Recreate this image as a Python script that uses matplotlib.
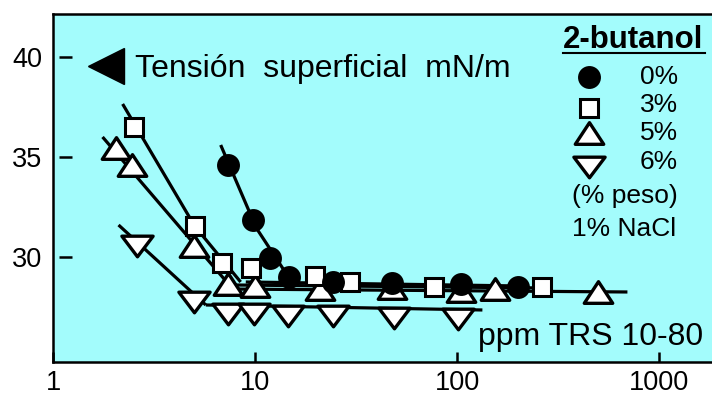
import numpy as np
import matplotlib
matplotlib.use('Agg')
from matplotlib import pyplot as plt
from matplotlib.ticker import NullLocator
from matplotlib.path import Path

plt.rcParams['font.family'] = ['Liberation Sans', 'DejaVu Sans']

# 0% 2-butanol (círculos)
x_0 = [7.28, 9.77, 11.75, 14.6, 24.3, 47.6, 104.5, 200]
y_0 = [34.6, 31.85, 29.95, 29.0, 28.75, 28.7, 28.65, 28.5]
# 3% (cuadrados)
x_3 = [2.5, 5.0, 6.8, 9.5, 19.8, 29.3, 76.9, 263]
y_3 = [36.5, 31.55, 29.7, 29.45, 29.05, 28.75, 28.5, 28.5]
# 5% (triangulos)
x_5 = [2.03, 2.44, 4.94, 7.28, 9.9, 21, 47.6, 104.5, 154, 498]
y_5 = [35.45, 34.6, 30.55, 28.65, 28.55, 28.4, 28.45, 28.3, 28.4, 28.25]
# 6% (triangulos invertidos)
x_6 = [2.6, 4.94, 7.28, 9.8, 14.5, 24.1, 48.3, 101]
y_6 = [30.55, 27.75, 27.15, 27.15, 27.05, 27.05, 26.95, 26.9]

# rectas de ajuste: pendiente y meseta
fit_0 = ([6.73, 10.1, 14.9], [35.6, 31.45, 28.85])
flat_0 = ([8.96, 205], [28.75, 28.55])
fit_3 = ([2.2, 5.0, 8.45], [37.65, 31.55, 28.75])
flat_3 = ([7.7, 272], [28.6, 28.45])
fit_5 = ([1.75, 7.72], [36.0, 28.4])
flat_5 = ([6.9, 695], [28.4, 28.25])
fit_6 = ([2.1, 5.68], [31.6, 27.6])
flat_6 = ([5.68, 133], [27.6, 27.35])

xticks = [1, 10, 100, 1000]
yticks = [30, 35, 40]
labels = ['0%', '3%', '5%', '6%']

# triangulos achatados (cerrados)
tri_up = Path([(-1, -0.76), (1, -0.76), (0, 0.76), (-1, -0.76)], closed=True)
tri_dn = Path([(-1, 0.66), (1, 0.66), (0, -0.66), (-1, 0.66)], closed=True)

styles = {
    '0%': dict(marker='o', ms=15, mfc='black', mec='black', mew=1.5),
    '3%': dict(marker='s', ms=13.5, mfc='white', mec='black', mew=2.2),
    '5%': dict(marker=tri_up, ms=20.5, mfc='white', mec='black', mew=2.4),
    '6%': dict(marker=tri_dn, ms=22.5, mfc='white', mec='black', mew=2.4),
}

fig = plt.figure(figsize=(7.12, 3.96), dpi=100)
ax = fig.add_axes([0.0751, 0.0859, 0.9249, 0.8788])
ax.set_facecolor('#a3fcfc')

lw = 2.3
for xs, ys in [fit_0, flat_0, fit_3, flat_3, fit_5, flat_5, fit_6, flat_6]:
    ax.plot(xs, ys, color='black', lw=lw, solid_capstyle='butt', zorder=2)

for xs, ys, lab in [(x_6, y_6, '6%'), (x_5, y_5, '5%'), (x_3, y_3, '3%'), (x_0, y_0, '0%')]:
    ax.plot(xs, ys, ls='none', zorder=3, **styles[lab])

ax.set_xscale('log')
ax.set_xlim(1.009, 1823)
ax.set_ylim(24.75, 42.15)
ax.set_xticks(xticks)
ax.set_xticklabels([str(t) for t in xticks])
ax.xaxis.set_minor_locator(NullLocator())
ax.set_yticks(yticks)
ax.set_yticklabels([str(t) for t in yticks])
ax.tick_params(axis='x', direction='in', length=7.5, width=1.8, pad=6, labelsize=19.5)
ax.tick_params(axis='y', length=0, pad=8, labelsize=19.5)
ax.hlines(yticks, 0.0084, 0.028, transform=ax.get_yaxis_transform(), color='black', lw=1.8)

for s in ['left', 'top', 'bottom']:
    ax.spines[s].set_linewidth(1.8)
ax.spines['right'].set_visible(False)

# etiqueta de tension superficial
ax.plot([0.0797], [0.8506], marker='<', ms=26, color='black', transform=ax.transAxes, clip_on=False)
ax.text(0.1238, 0.819, 'Tensión  superficial  mN/m', fontsize=23, transform=ax.transAxes, va='baseline')

# leyenda manual
ax.text(0.7737, 0.9023, '2-butanol', fontsize=22.5, fontweight='bold', transform=ax.transAxes, va='baseline')
ax.plot([0.7737, 0.9894], [0.8879, 0.8879], color='black', lw=1.5, transform=ax.transAxes)
mk_y = [0.819, 0.7299, 0.658, 0.5603]
tx_y = [0.819, 0.739, 0.658, 0.575]
for lab, my, ty in zip(labels, mk_y, tx_y):
    st = dict(styles[lab])
    ax.plot([0.8132], [my], transform=ax.transAxes, **st)
    ax.text(0.8907, ty, lab, fontsize=19, transform=ax.transAxes, va='center')
ax.text(0.868, 0.477, '(% peso)', fontsize=19, transform=ax.transAxes, va='center', ha='center')
ax.text(0.867, 0.382, '1% NaCl', fontsize=19, transform=ax.transAxes, va='center', ha='center')

ax.text(0.9863, 0.0489, 'ppm TRS 10-80', fontsize=23, transform=ax.transAxes, va='baseline', ha='right')

fig.savefig('out.png', dpi=100)
